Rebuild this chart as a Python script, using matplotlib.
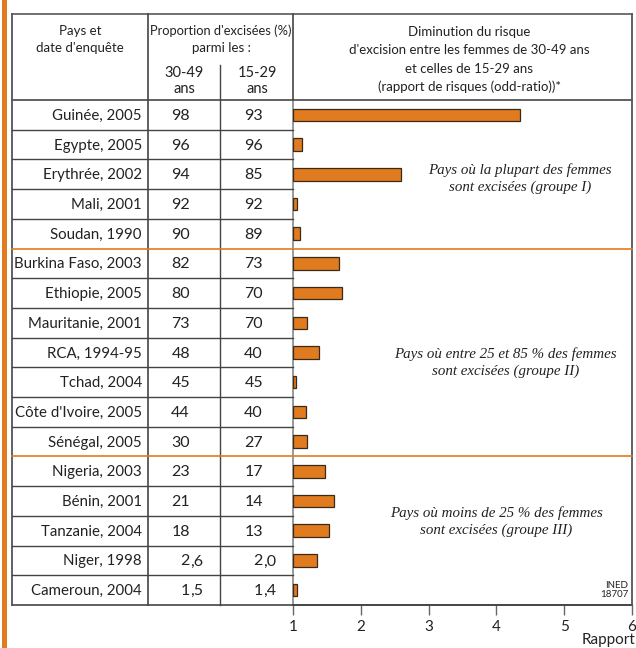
import matplotlib
matplotlib.use("Agg")
import matplotlib.pyplot as plt

# data
countries = ["Guinée, 2005", "Egypte, 2005", "Erythrée, 2002", "Mali, 2001",
             "Soudan, 1990", "Burkina Faso, 2003", "Ethiopie, 2005",
             "Mauritanie, 2001", "RCA, 1994-95", "Tchad, 2004",
             "Côte d'Ivoire, 2005", "Sénégal, 2005", "Nigeria, 2003",
             "Bénin, 2001", "Tanzanie, 2004", "Niger, 1998", "Cameroun, 2004"]
prop_30_49 = ["98", "96", "94", "92", "90", "82", "80", "73", "48", "45",
              "44", "30", "23", "21", "18", "2,6", "1,5"]
prop_15_29 = ["93", "96", "85", "92", "89", "73", "70", "70", "40", "45",
              "40", "27", "17", "14", "13", "2,0", "1,4"]
odds_ratio = [4.35, 1.14, 2.59, 1.06, 1.10, 1.68, 1.73, 1.20, 1.39, 1.04,
              1.19, 1.20, 1.47, 1.60, 1.53, 1.35, 1.06]
group_ends = [5, 12]  # rows after which a group separator is drawn
group_labels = ["Pays où la plupart des femmes\nsont excisées (groupe I)",
                "Pays où entre 25 et 85 % des femmes\nsont excisées (groupe II)",
                "Pays où moins de 25 % des femmes\nsont excisées (groupe III)"]
xticks = [1, 2, 3, 4, 5, 6]

W, H = 636, 648
ORANGE = "#e07b1f"
LINE = "#444444"
TXT = "#222222"
SANS = "Lato"
SERIF = "Liberation Serif"

# layout in pixels (from top-left)
x_left, x_c1, x_c2, x_ax, x_right = 12, 148, 220, 293, 632
y_top, y_head, y_bot = 14, 100, 605
n = len(countries)
row_h = (y_bot - y_head) / n

fig = plt.figure(figsize=(W / 100, H / 100), dpi=100)

# bar axes
ax = fig.add_axes([x_ax / W, 1 - y_bot / H, (x_right - x_ax) / W, (y_bot - y_head) / H])
ax.patch.set_alpha(0)
ys = list(range(n))
ax.barh(ys, [v - 1 for v in odds_ratio], left=1, height=0.42,
        color=ORANGE, edgecolor="#3a2a1a", linewidth=0.9, zorder=3)
ax.set_xlim(1, 6)
ax.set_ylim(n - 0.5, -0.5)
ax.set_yticks([])
ax.set_xticks(xticks)
ax.set_xticklabels([str(t) for t in xticks], fontsize=11, color=TXT, family=SANS)
ax.tick_params(axis="x", direction="out", length=7, width=1, color="#666666", pad=4)
for s in ["top", "right"]:
    ax.spines[s].set_visible(False)
ax.spines["left"].set_color("#888888")
ax.spines["bottom"].set_color(LINE)
ax.spines["left"].set_linewidth(1.2)
ax.spines["bottom"].set_linewidth(1.2)

# group annotations
for (gx, gy), lab in zip([(4.35, 2.15), (4.13, 8.35), (4.0, 13.7)], group_labels):
    ax.text(gx, gy, lab, ha="center", va="center", fontsize=10.8,
            style="italic", family=SERIF, color=TXT, linespacing=1.3)

# overlay in pixel coordinates for the table
ov = fig.add_axes([0, 0, 1, 1])
ov.set_xlim(0, W)
ov.set_ylim(H, 0)
ov.axis("off")
ov.patch.set_alpha(0)

# orange strip on the left
ov.fill_between([2, 7], 0, H, color=ORANGE, lw=0)

# borders
ov.plot([x_left, x_right], [y_top, y_top], color="#666666", lw=1.3)
ov.plot([x_left, x_right], [y_head, y_head], color="#555555", lw=1.3)
ov.plot([x_left, x_right], [y_bot, y_bot], color=LINE, lw=1.2)
ov.plot([x_left, x_left], [y_top, y_bot], color="#555555", lw=1.3)
ov.plot([x_right, x_right], [y_top, y_bot], color="#555555", lw=1.3)
ov.plot([x_c1, x_c1], [y_top, y_bot], color=LINE, lw=1.2)
ov.plot([x_ax, x_ax], [y_top, y_head], color=LINE, lw=1.2)
ov.plot([x_c2, x_c2], [65, y_bot], color=LINE, lw=1.0)

# row lines
for i in range(1, n):
    y = y_head + i * row_h
    if i in group_ends:
        ov.plot([x_left, x_right], [y, y], color=ORANGE, lw=1.2)
    else:
        ov.plot([x_left, x_ax], [y, y], color=LINE, lw=1.0)


def htext(x, y, s, size=9.5):
    ov.text(x, y, s, ha="center", va="center", fontsize=size, family=SANS,
            color=TXT)


# header texts
htext(80, 31, "Pays et")
htext(80, 48, "date d'enquête")
htext(221, 31, "Proportion d'excisées (%)", 9.3)
htext(221, 48, "parmi les :")
htext(184, 73, "30-49", 10.5)
htext(184, 89, "ans", 10.5)
htext(257, 73, "15-29", 10.5)
htext(257, 89, "ans", 10.5)
right_head = ["Diminution du risque", "d'excision entre les femmes de 30-49 ans",
              "et celles de 15-29 ans", "(rapport de risques (odd-ratio))*"]
for k, s in enumerate(right_head):
    htext(469, 32 + k * 18.3, s)


def put_number(s, x_anchor, y):
    if "," in s:
        a, b = s.split(",")
        ov.text(x_anchor, y, a, ha="right", va="center", fontsize=11.5,
                family=SANS, color=TXT)
        ov.text(x_anchor, y, "," + b, ha="left", va="center", fontsize=11.5,
                family=SANS, color=TXT)
    else:
        ov.text(x_anchor, y, s, ha="right", va="center", fontsize=11.5,
                family=SANS, color=TXT)


for i, name in enumerate(countries):
    yc = y_head + (i + 0.5) * row_h + 1
    ov.text(x_c1 - 6, yc, name, ha="right", va="center", fontsize=10.8,
            family=SANS, color=TXT)
    put_number(prop_30_49[i], 190, yc)
    put_number(prop_15_29[i], 263, yc)

ov.text(628, 590, "INED\n18707", ha="right", va="center", fontsize=7,
        family=SANS, color=TXT, linespacing=0.95)
ov.text(635, 640, "Rapport", ha="right", va="center", fontsize=11,
        family=SANS, color=TXT)

fig.savefig("out.png", dpi=100)
